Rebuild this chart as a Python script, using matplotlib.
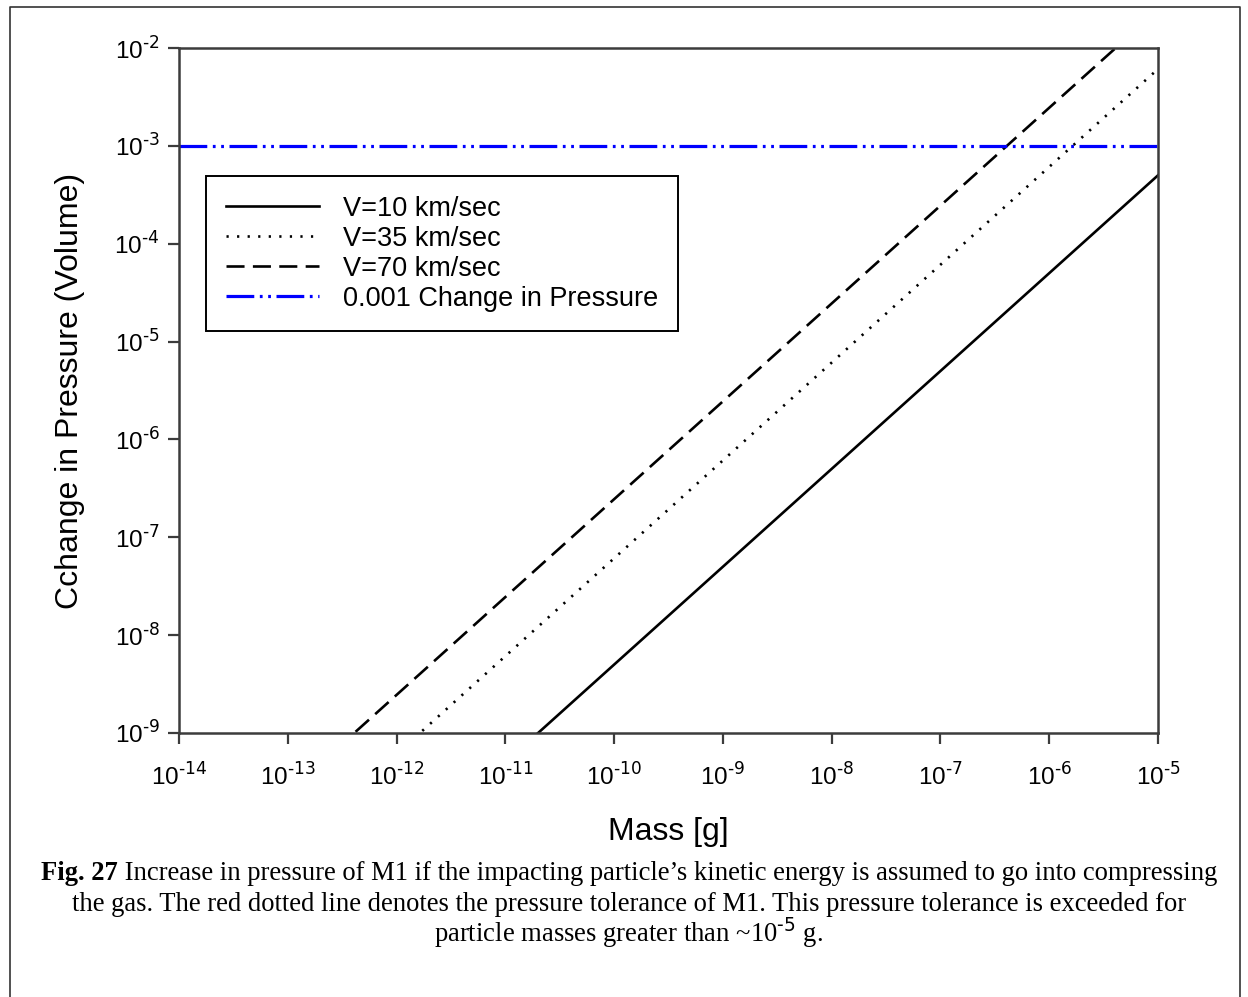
import matplotlib
matplotlib.use("Agg")
import matplotlib.pyplot as plt
from matplotlib.lines import Line2D
from matplotlib.ticker import LogLocator, NullLocator, FuncFormatter
import numpy as np

plt.rcParams["font.family"] = ["Liberation Sans", "DejaVu Sans"]
plt.rcParams["lines.scale_dashes"] = False
plt.rcParams["axes.unicode_minus"] = False

# line end points (slope 1 in log-log)
mass = [1e-14, 1e-5]
p_v10 = [5.0e-13, 5.0e-4]
p_v35 = [6.1e-12, 6.1e-3]
p_v70 = [2.45e-11, 2.45e-2]
threshold = 1e-3

labels = ["V=10 km/sec", "V=35 km/sec", "V=70 km/sec", "0.001 Change in Pressure"]

caption_bold = "Fig. 27"
caption_1 = " Increase in pressure of M1 if the impacting particle\u2019s kinetic energy is assumed to go into compressing"
caption_2 = "the gas. The red dotted line denotes the pressure tolerance of M1. This pressure tolerance is exceeded for"
caption_3 = "particle masses greater than ~10$^{\\text{-5}}$ g."


def pow10_label(v, pos):
    e = int(round(np.log10(v)))
    return "10$^{\\text{%d}}$" % e


W, H = 1248, 997
fig = plt.figure(figsize=(W / 100, H / 100), dpi=100)

# thin outer frame (left, top, right)
frame = Line2D([10 / W, 10 / W, 1240 / W, 1240 / W],
               [0, 1 - 7 / H, 1 - 7 / H, 0],
               transform=fig.transFigure, color="#333333", lw=1.2)
fig.add_artist(frame)

ax = fig.add_axes([179 / W, 1 - 733 / H, (1158 - 179) / W, (733 - 48) / H])

ax.plot(mass, p_v10, color="black", lw=1.9, label=labels[0])
ax.plot(mass, p_v35, color="black", lw=1.9, dashes=(1.6, 6.0), label=labels[1])
ax.plot(mass, p_v70, color="black", lw=1.9, dashes=(13, 6), label=labels[2])
ax.axhline(threshold, color="#0000ff", lw=2.3,
           dashes=(20, 4, 2, 4, 2, 4), label=labels[3])

ax.set_xscale("log")
ax.set_yscale("log")
ax.set_xlim(1e-14, 1e-5)
ax.set_ylim(1e-9, 1e-2)
ax.xaxis.set_major_locator(LogLocator(base=10, numticks=20))
ax.yaxis.set_major_locator(LogLocator(base=10, numticks=20))
ax.xaxis.set_minor_locator(NullLocator())
ax.yaxis.set_minor_locator(NullLocator())
ax.xaxis.set_major_formatter(FuncFormatter(pow10_label))
ax.yaxis.set_major_formatter(FuncFormatter(pow10_label))

for sp in ax.spines.values():
    sp.set_color("#3c3c3c")
    sp.set_linewidth(1.8)
ax.tick_params(axis="both", direction="out", length=8, width=1.6,
               color="#3c3c3c", labelsize=17.5)
ax.tick_params(axis="x", pad=14)
ax.tick_params(axis="y", pad=6)

ax.set_xlabel("Mass [g]", fontsize=23, labelpad=19)
ax.set_ylabel("Cchange in Pressure (Volume)", fontsize=23, labelpad=21)

leg = ax.legend(loc="upper left", bbox_to_anchor=(0.0276, 0.813),
                borderaxespad=0, fontsize=19.5, handlelength=3.45,
                handletextpad=0.9, labelspacing=0.15, borderpad=0.72,
                fancybox=False, framealpha=1, edgecolor="black")
leg.get_frame().set_linewidth(1.4)

# caption
serif = ["Liberation Serif", "DejaVu Serif"]
cap_size = 19.2
t0 = fig.text(40 / W, 1 - 880 / H, caption_bold, family=serif, fontsize=cap_size,
              fontweight="bold", ha="left", va="baseline")
t1 = fig.text(40 / W, 1 - 880 / H, caption_1, family=serif, fontsize=cap_size,
              ha="left", va="baseline")
fig.text(629 / W, 1 - 911 / H, caption_2, family=serif, fontsize=cap_size,
         ha="center", va="baseline")
fig.text(629 / W, 1 - 942 / H, caption_3, family=serif, fontsize=cap_size,
         ha="center", va="baseline")

# centre the two-part first caption line
fig.canvas.draw()
r = fig.canvas.get_renderer()
w0 = t0.get_window_extent(r).width
w1 = t1.get_window_extent(r).width
x0 = 629 - (w0 + w1) / 2
t0.set_x(x0 / W)
t1.set_x((x0 + w0) / W)

fig.savefig("out.png", dpi=100)
